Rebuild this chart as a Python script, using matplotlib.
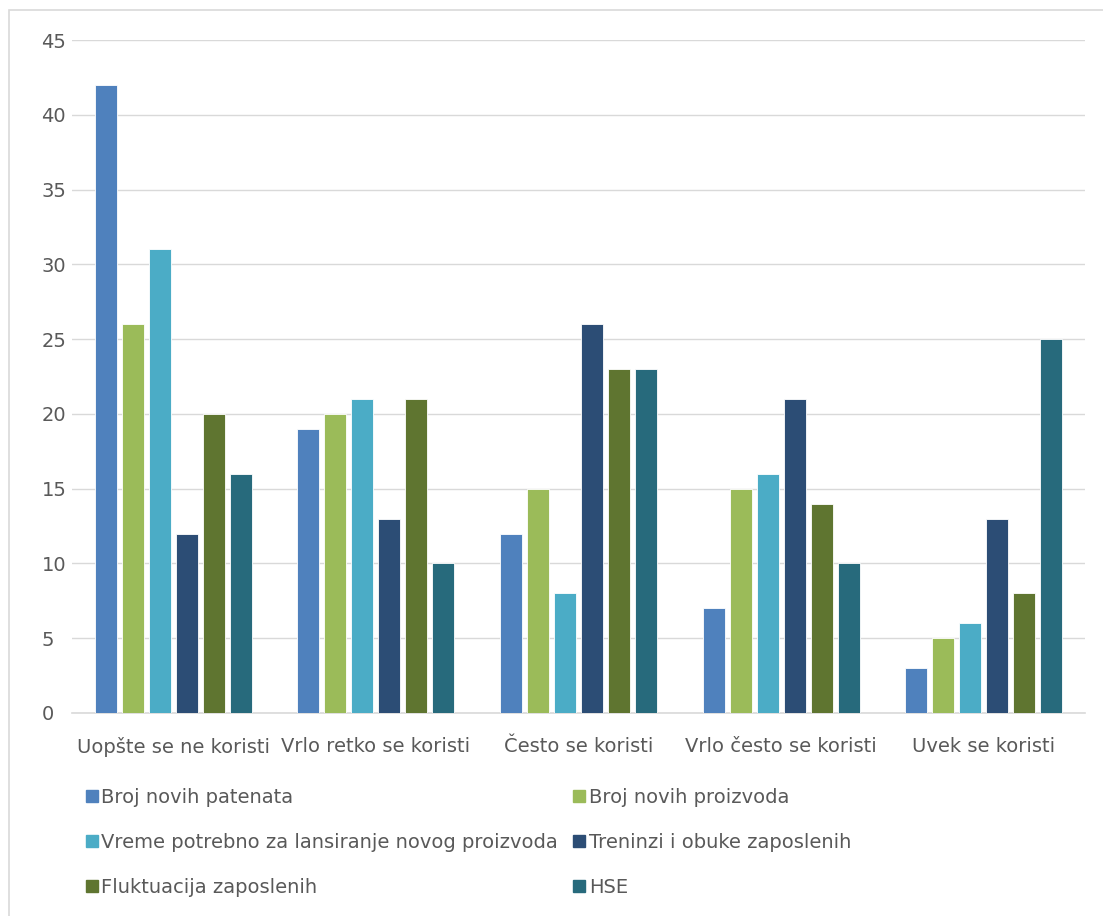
"""Grouped bar chart: usage frequency of KPIs by category."""
import matplotlib.pyplot as plt
from matplotlib.lines import Line2D
import numpy as np

categories = ["Uopšte se ne koristi", "Vrlo retko se koristi", "Često se koristi",
              "Vrlo često se koristi", "Uvek se koristi"]
series_names = ["Broj novih patenata", "Broj novih proizvoda",
                "Vreme potrebno za lansiranje novog proizvoda",
                "Treninzi i obuke zaposlenih", "Fluktuacija zaposlenih", "HSE"]
patenti = [42, 19, 12, 7, 3]
proizvodi = [26, 20, 15, 15, 5]
vreme = [31, 21, 8, 16, 6]
treninzi = [12, 13, 26, 21, 13]
fluktuacija = [20, 21, 23, 14, 8]
hse = [16, 10, 23, 10, 25]
colors = ["#4F81BD", "#9BBB59", "#4BACC6", "#2C4D75", "#5F7530", "#276A7C"]
yticks = [0, 5, 10, 15, 20, 25, 30, 35, 40, 45]

W, H = 1103, 916
fig = plt.figure(figsize=(W / 100, H / 100), dpi=100)
ax = fig.add_axes([72 / W, 1 - 713 / H, (1085 - 72) / W, (713 - 40) / H])

text_color = "#595959"

x = np.arange(len(categories))
step = 0.1333
width = 0.109
all_series = [patenti, proizvodi, vreme, treninzi, fluktuacija, hse]
for i, (vals, col, name) in enumerate(zip(all_series, colors, series_names)):
    ax.bar(x + (i - 2.5) * step, vals, width, color=col, label=name,
           edgecolor="white", linewidth=0.6, zorder=3)

ax.set_xlim(-0.5, len(categories) - 0.5)
ax.set_ylim(0, 45)
ax.set_yticks(yticks)
ax.set_xticks(x)
ax.set_xticklabels(categories, fontsize=14, color=text_color)
ax.tick_params(axis="y", length=0, pad=22, labelsize=14, labelcolor=text_color)
ax.tick_params(axis="x", length=0, pad=17)
for lbl in ax.get_yticklabels():
    lbl.set_horizontalalignment("left")
ax.grid(axis="y", color="#D9D9D9", linewidth=1, zorder=0)
for side in ["top", "right", "left"]:
    ax.spines[side].set_visible(False)
ax.spines["bottom"].set_color("#D9D9D9")
ax.spines["bottom"].set_linewidth(1.2)

# legend, two columns filled row by row
order = [0, 2, 4, 1, 3, 5]
handles = [Line2D([0], [0], marker="s", linestyle="", markersize=9,
                  markerfacecolor=colors[k], markeredgecolor=colors[k]) for k in order]
labels = [series_names[k] for k in order]
fig.legend(handles, labels, ncol=2, loc="upper left",
           bbox_to_anchor=(74 / W, 1 - 780 / H), frameon=False,
           prop={"size": 14}, labelcolor=text_color,
           handletextpad=0.0, handlelength=1.0, columnspacing=0.6,
           labelspacing=1.35, borderaxespad=0)

# outer chart border (left and top edges visible)
fig.add_artist(plt.Rectangle((9 / W, -0.05), 1.0, 1 - 10 / H + 0.05,
                             transform=fig.transFigure, fill=False,
                             edgecolor="#D9D9D9", linewidth=1.2))

fig.savefig("out.png", dpi=100)
